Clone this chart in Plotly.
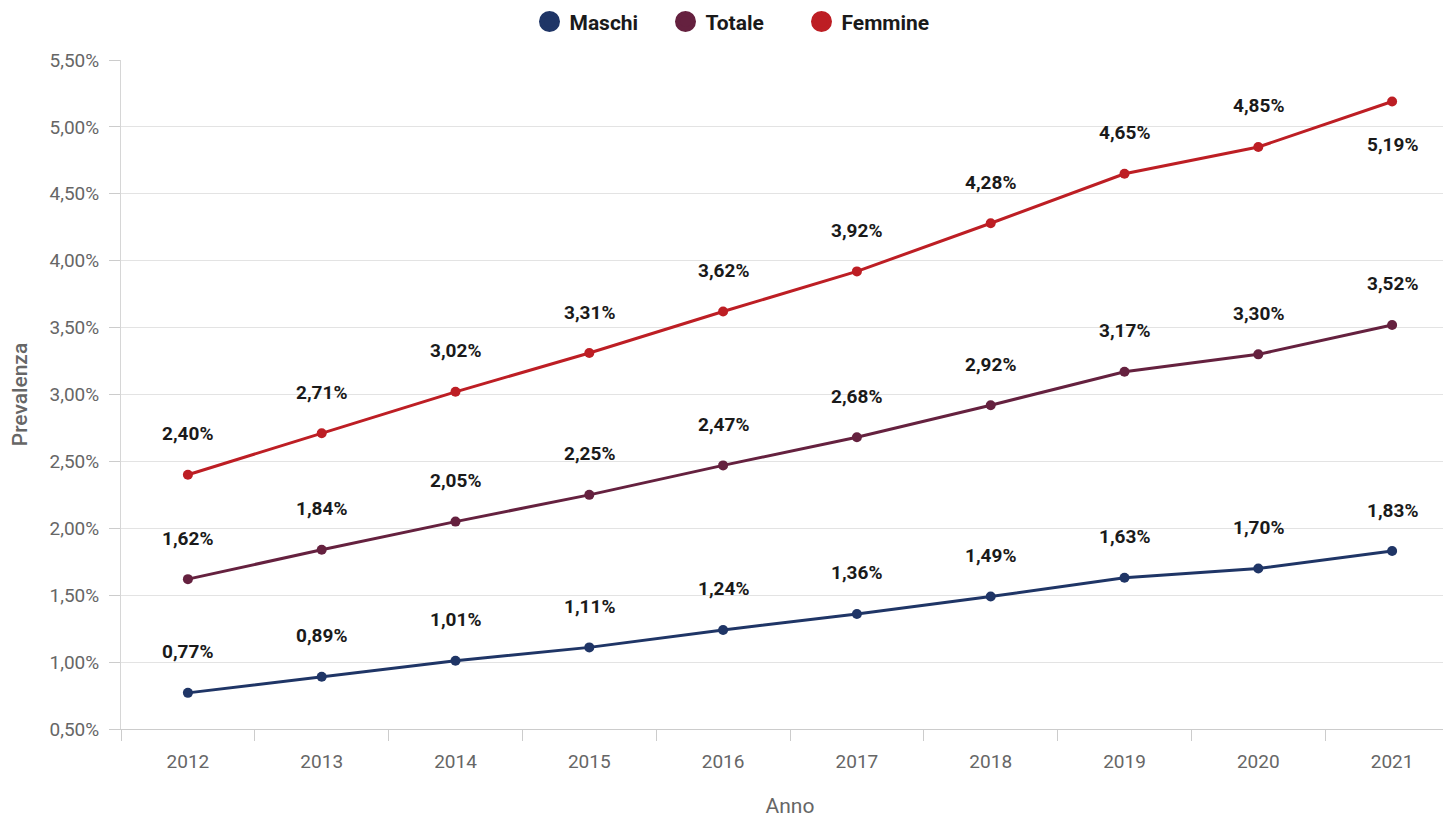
import plotly.graph_objects as go

anni = ["2012", "2013", "2014", "2015", "2016", "2017", "2018", "2019", "2020", "2021"]
maschi = [0.0077, 0.0089, 0.0101, 0.0111, 0.0124, 0.0136, 0.0149, 0.0163, 0.0170, 0.0183]
totale = [0.0162, 0.0184, 0.0205, 0.0225, 0.0247, 0.0268, 0.0292, 0.0317, 0.0330, 0.0352]
femmine = [0.0240, 0.0271, 0.0302, 0.0331, 0.0362, 0.0392, 0.0428, 0.0465, 0.0485, 0.0519]

series = [
    ("Maschi", maschi, "#1f3566"),
    ("Totale", totale, "#65213f"),
    ("Femmine", femmine, "#bd1e24"),
]

FONT = "Roboto, Arial, sans-serif"

fig = go.Figure()
for name, values, color in series:
    fig.add_trace(
        go.Scatter(
            x=anni,
            y=values,
            mode="lines+markers",
            name=name,
            line={"color": color, "width": 3},
            marker={"color": color, "size": 10},
            showlegend=False,
            hoverinfo="skip",
        )
    )
    # legend-only twin so the legend gets the big round marker
    fig.add_trace(
        go.Scatter(
            x=[None],
            y=[None],
            mode="markers",
            name=name,
            marker={"color": color, "size": 16, "line": {"color": color, "width": 5}},
        )
    )
    for i, v in enumerate(values):
        # category index, since "2012"-like strings would be read as numbers
        below = name == "Femmine" and i == len(values) - 1
        fig.add_annotation(
            x=i,
            y=v,
            text=f"{v * 100:.2f}%".replace(".", ","),
            showarrow=False,
            yanchor="middle",
            yshift=-43 if below else 41,
            font={"family": FONT, "size": 19, "color": "#1a1a1a", "weight": "bold"},
        )

fig.update_layout(
    width=1451,
    height=816,
    margin={"l": 113, "r": 0, "t": 52, "b": 95},
    paper_bgcolor="white",
    plot_bgcolor="white",
    separators=",.",
    font={"family": FONT, "size": 19, "color": "#666666"},
    legend={
        "orientation": "h",
        "x": 0.5,
        "xanchor": "center",
        "xref": "container",
        "y": 0.983,
        "yanchor": "middle",
        "yref": "container",
        "font": {"family": FONT, "size": 21, "color": "#1a1a1a", "weight": "bold"},
        "itemwidth": 30,
        "entrywidth": 91,
    },
    xaxis={
        "type": "category",
        "range": [-0.5, 9.5],
        "tickson": "boundaries",
        "ticks": "outside",
        "ticklen": 11,
        "tickcolor": "#cccccc",
        "showgrid": False,
        "showline": True,
        "linecolor": "#cccccc",
        "automargin": False,
        "ticklabelstandoff": 15,
        "tickfont": {"size": 19, "color": "#666666"},
        "title": {"text": "Anno", "font": {"size": 21, "color": "#666666"}, "standoff": 26},
    },
    yaxis={
        "range": [0.005, 0.055],
        "dtick": 0.005,
        "tickformat": ".2%",
        "ticks": "outside",
        "ticklen": 11,
        "tickcolor": "#cccccc",
        "showgrid": True,
        "gridcolor": "#e3e3e3",
        "gridwidth": 1,
        "showline": True,
        "linecolor": "#d6d6d6",
        "zeroline": False,
        "automargin": False,
        "ticklabelstandoff": 6,
        "tickfont": {"size": 19, "color": "#666666"},
        "title": {
            "text": "Prevalenza",
            "font": {"size": 21, "color": "#666666", "weight": 500},
            "standoff": 19,
        },
    },
)

fig.write_html("out.html")
